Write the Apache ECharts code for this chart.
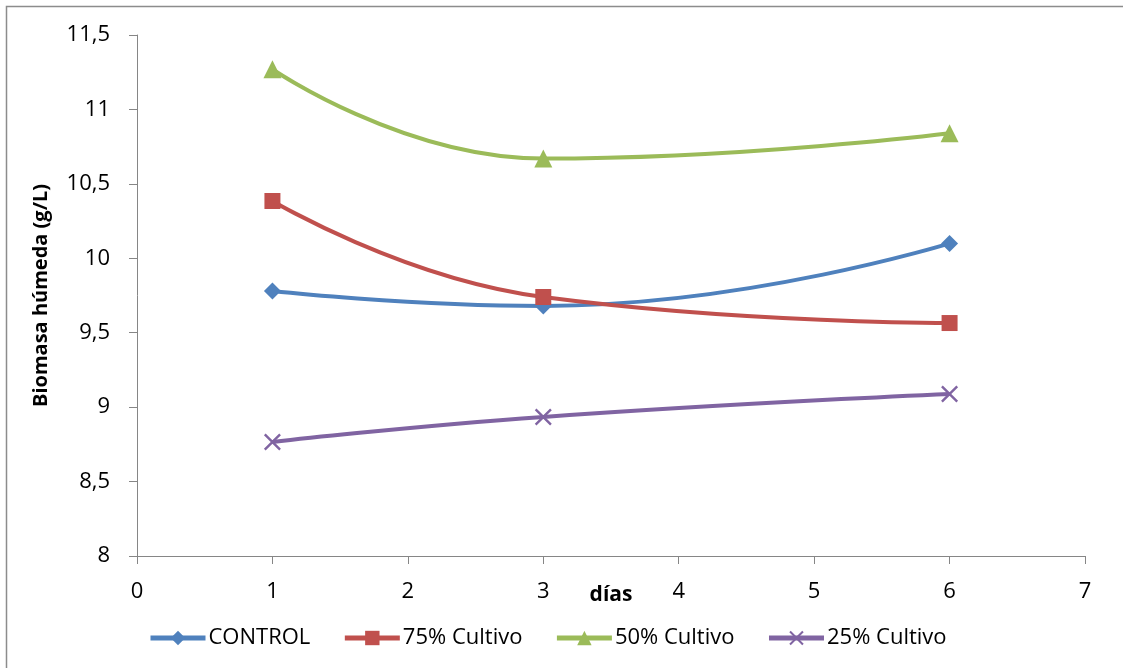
<!DOCTYPE html>
<html>
<head>
<meta charset="utf-8">
<script src="https://cdn.jsdelivr.net/npm/echarts@6/dist/echarts.min.js"></script>
<style>html,body{margin:0;padding:0;background:#fff}#c{width:1123px;height:668px}</style>
</head>
<body>
<div id="c"></div>
<script>
const days = [1, 3, 6];
const control = [9.78, 9.68, 10.1];
const cultivo75 = [10.385, 9.74, 9.565];
const cultivo50 = [11.27, 10.67, 10.84];
const cultivo25 = [8.766, 8.934, 9.088];
const seriesNames = ['CONTROL', '75% Cultivo', '50% Cultivo', '25% Cultivo'];
const colors = ['#4F81BD', '#C0504D', '#9BBB59', '#8064A2'];

const pairs = arr => days.map((d, i) => [d, arr[i]]);
const xSym = 'path://M0,1L1,0L5,4L9,0L10,1L6,5L10,9L9,10L5,6L1,10L0,9L4,5Z';
const font = 'Open Sans';

const mk = (name, data, color, symbol, size) => ({
  name, type: 'line', data: pairs(data), smooth: 0.5,
  symbol, symbolSize: size,
  lineStyle: { color, width: 4 },
  itemStyle: { color },
  z: 3
});

const chart = echarts.init(document.getElementById('c'));
chart.setOption({
  animation: false,
  color: colors,
  graphic: [{
    type: 'rect', shape: { x: 6.5, y: 6.5, width: 1200, height: 800 },
    style: { fill: 'none', stroke: '#8c8c8c', lineWidth: 1.5 }, silent: true
  }],
  grid: { left: 137, right: 38, top: 35, bottom: 112 },
  xAxis: {
    type: 'value', min: 0, max: 7, interval: 1,
    name: 'días', nameLocation: 'middle', nameGap: 29, nameMoveOverlap: false,
    nameTextStyle: { fontFamily: font, fontWeight: 'bold', fontSize: 21, color: '#000' },
    axisLine: { lineStyle: { color: '#868686', width: 1 } },
    axisTick: { show: true, length: 8, lineStyle: { color: '#868686' } },
    axisLabel: { fontFamily: font, fontSize: 22, color: '#000', margin: 25 },
    splitLine: { show: false }
  },
  yAxis: {
    type: 'value', min: 8, max: 11.5, interval: 0.5,
    name: 'Biomasa húmeda (g/L)', nameLocation: 'middle', nameGap: 86, nameMoveOverlap: false,
    nameTextStyle: { fontFamily: font, fontWeight: 'bold', fontSize: 20, color: '#000' },
    axisLine: { show: true, lineStyle: { color: '#868686', width: 1 } },
    axisTick: { show: true, length: 8, lineStyle: { color: '#868686' } },
    axisLabel: { fontFamily: font, fontSize: 22, color: '#000', margin: 27,
      formatter: v => String(v).replace('.', ',') },
    splitLine: { show: false }
  },
  legend: {
    top: 622, left: 143, itemWidth: 55, itemHeight: 18, itemGap: 32,
    textStyle: { fontFamily: font, fontSize: 22, color: '#000', padding: [0, 0, 0, -2] },
    lineStyle: { width: 5 },
    data: seriesNames
  },
  series: [
    mk(seriesNames[0], control, colors[0], 'diamond', 17),
    mk(seriesNames[1], cultivo75, colors[1], 'rect', 16),
    mk(seriesNames[2], cultivo50, colors[2], 'triangle', 18),
    mk(seriesNames[3], cultivo25, colors[3], xSym, 17)
  ]
});
</script>
</body>
</html>
